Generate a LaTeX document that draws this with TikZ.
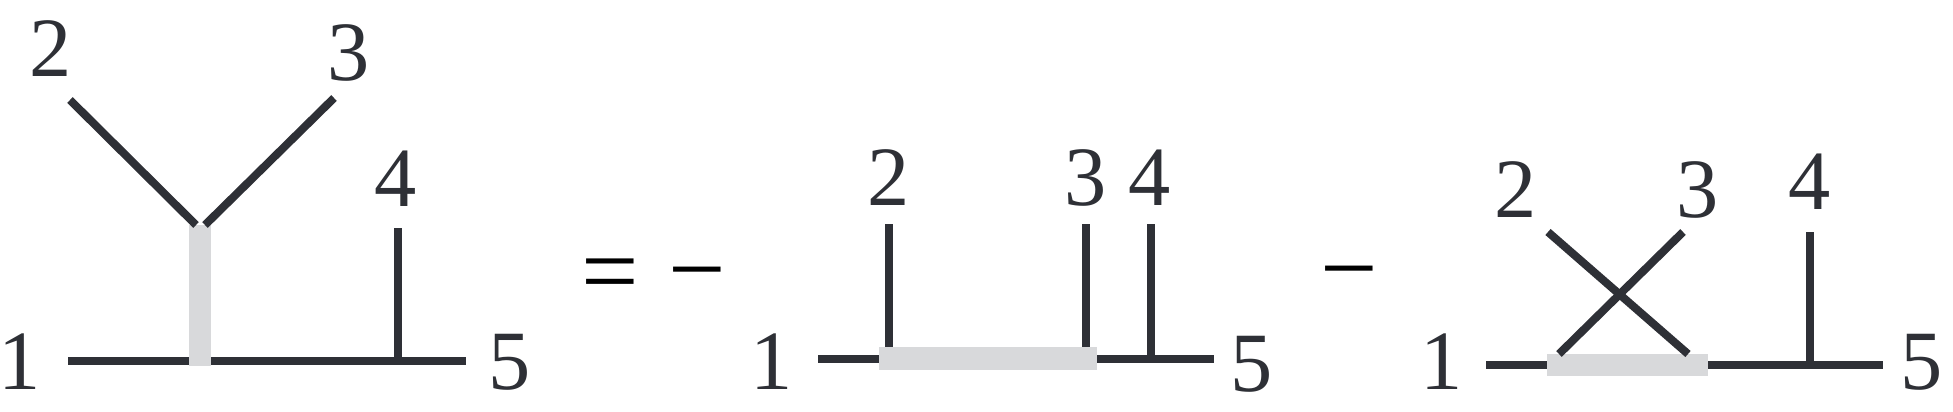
\documentclass[tikz,border=0pt]{standalone}
\usepackage{fontspec}
\setmainfont{Liberation Serif}
\definecolor{ink}{HTML}{2E3036}
\definecolor{barc}{HTML}{D8D9DB}
\begin{document}
\begin{tikzpicture}[x=0.01cm,y=-0.01cm,
  lab/.style={font=\fontsize{24}{24}\selectfont, inner sep=0pt, text=ink},
  op/.style={font=\fontsize{29}{29}\selectfont, inner sep=0pt, text=black, anchor=base},
  leg/.style={draw=ink, line width=0.08cm},
  gbar/.style={fill=barc, draw=none}]
\useasboundingbox (0,0) rectangle (1953,412);
% ---------- diagram 1 ----------
\node[lab] (d1l2) at (51,49) {2};
\node[lab] (d1l3) at (349,53) {3};
\node[lab] (d1l4) at (396,179) {4};
\node[lab] (d1l1) at (20,362) {1};
\node[lab] (d1l5) at (510,362) {5};
\coordinate (d1a) at (68,361);
\coordinate (d1b) at (466,361);
\coordinate (d1v) at (398,361);
\coordinate (d1t4) at (398,228);
\coordinate (d1e2) at (70,100);
\coordinate (d1e3) at (334,98);
\coordinate (d1j2) at (196,225);
\coordinate (d1j3) at (205,225);
\draw[leg] (d1a) -- (d1b);
\fill[gbar] (189,225) rectangle (211,366);
\draw[leg] (d1e2) -- (d1j2);
\draw[leg] (d1e3) -- (d1j3);
\draw[leg] (d1t4) -- (d1v);
% ---------- equals, minus ----------
\node[op] (eq) at (610,305) {=};
\node[op] (m1) at (697,303) {−};
% ---------- diagram 2 ----------
\node[lab] (d2l1) at (772,362) {1};
\node[lab] (d2l2) at (889,178) {2};
\node[lab] (d2l3) at (1086,178) {3};
\node[lab] (d2l4) at (1150,178) {4};
\node[lab] (d2l5) at (1252,364) {5};
\coordinate (d2a) at (818,359);
\coordinate (d2b) at (1214,359);
\draw[leg] (d2a) -- (d2b);
\fill[gbar] (879,347) rectangle (1097,370);
\coordinate (d2t2) at (889,224);
\coordinate (d2s2) at (889,347);
\coordinate (d2t3) at (1086,224);
\coordinate (d2s3) at (1086,347);
\coordinate (d2t4) at (1151,224);
\coordinate (d2s4) at (1151,359);
\draw[leg] (d2t2) -- (d2s2);
\draw[leg] (d2t3) -- (d2s3);
\draw[leg] (d2t4) -- (d2s4);
% ---------- minus ----------
\node[op] (m2) at (1349,302) {−};
% ---------- diagram 3 ----------
\node[lab] (d3l1) at (1442,362) {1};
\node[lab] (d3l2) at (1516,190) {2};
\node[lab] (d3l3) at (1698,190) {3};
\node[lab] (d3l4) at (1810,182) {4};
\node[lab] (d3l5) at (1922,362) {5};
\coordinate (d3a) at (1486,365);
\coordinate (d3b) at (1883,365);
\draw[leg] (d3a) -- (d3b);
\fill[gbar] (1547,354) rectangle (1708,376);
\coordinate (d3e2) at (1548,232);
\coordinate (d3f2) at (1688,354);
\coordinate (d3e3) at (1683,232);
\coordinate (d3f3) at (1559,354);
\draw[leg] (d3e2) -- (d3f2);
\draw[leg] (d3e3) -- (d3f3);
\coordinate (d3t4) at (1810,232);
\coordinate (d3s4) at (1810,365);
\draw[leg] (d3t4) -- (d3s4);
\end{tikzpicture}
\end{document}
